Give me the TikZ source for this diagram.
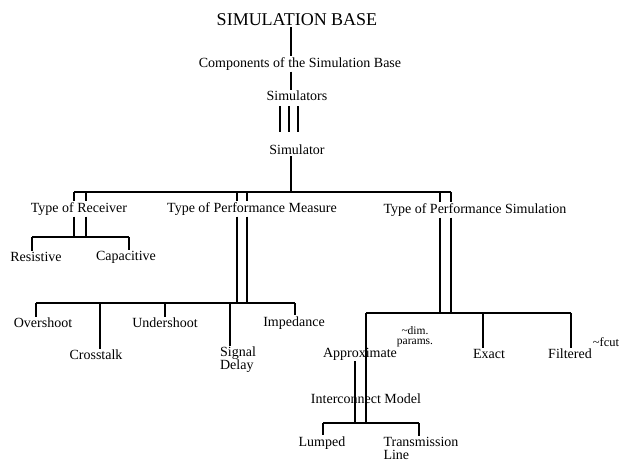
\documentclass[tikz,border=0pt]{standalone}
\usepackage{fontspec}
\setmainfont{Liberation Serif}
\usetikzlibrary{calc}
\begin{document}
\begin{tikzpicture}[x=1pt,y=-1pt,
  lbl/.style={inner sep=1pt, font=\fontsize{14}{13}\selectfont},
  small/.style={inner sep=1pt, font=\fontsize{11.5}{10}\selectfont, align=center},
  conn/.style={line width=1.6pt}]
\useasboundingbox (0,0) rectangle (621,462);
% nodes
\node[inner sep=1pt, font=\fontsize{18}{18}\selectfont] (title) at (297,20) {SIMULATION BASE};
\node[lbl] (comp) at (300,64) {Components of the Simulation Base};
\node[lbl] (sims) at (297,96) {Simulators};
\node[lbl] (sim) at (297,150) {Simulator};
\node[lbl] (recv) at (79,209) {Type of Receiver};
\node[lbl] (perfm) at (252,209) {Type of Performance Measure};
\node[lbl] (perfs) at (475,210) {Type of Performance Simulation};
\node[lbl] (res) at (36,257) {Resistive};
\node[lbl] (cap) at (126,257) {Capacitive};
\node[lbl] (over) at (43,323) {Overshoot};
\node[lbl] (cross) at (96,355) {Crosstalk};
\node[lbl] (under) at (165,323) {Undershoot};
\node[lbl, align=left] (delay) at (238,360) {Signal\\Delay};
\node[lbl] (imp) at (294,323) {Impedance};
\node[lbl] (approx) at (360,354) {Approximate};
\node[small] (dim) at (415,337) {\textasciitilde dim.\\params.};
\node[lbl] (exact) at (489,354) {Exact};
\node[lbl] (filt) at (570,354) {Filtered};
\node[small, font=\fontsize{12.5}{12}\selectfont] (fcut) at (606,342) {\textasciitilde fcut};
\node[lbl] (icm) at (366,399) {Interconnect Model};
\node[lbl] (lump) at (322,443) {Lumped};
\node[lbl, align=left] (tl) at (421,448) {Transmission\\Line};
% bus coordinates
\coordinate (bus) at (291,192);
\coordinate (rbus) at (80,237);
\coordinate (mbus) at (240,303);
\coordinate (sbus) at (366,313);
\coordinate (ibus) at (366,423);
\coordinate (rL) at (74,0); \coordinate (rR) at (86,0);
\coordinate (mL) at (237,0); \coordinate (mR) at (247,0);
\coordinate (sL) at (440,0); \coordinate (sR) at (451,0);
\coordinate (aL) at (355,0); \coordinate (aR) at (366,0);
\coordinate (xRes) at (32,0); \coordinate (xCap) at (129,0);
\coordinate (xOver) at (36,0); \coordinate (xCross) at (100,0);
\coordinate (xUnder) at (165,0); \coordinate (xDelay) at (230,0);
\coordinate (xImp) at (295,0);
\coordinate (xExact) at (483,0); \coordinate (xFilt) at (571,0);
\coordinate (xLump) at (323,0); \coordinate (xTl) at (419,0);
% top chain
\draw[conn] (title.south -| bus) -- (comp.north -| bus);
\draw[conn] (comp.south -| bus) -- (sims.north -| bus);
\foreach \dx in {-11,-2,7}
  \draw[conn] ($(sims.south -| bus)+(\dx,4)$) -- ($(sim.north -| bus)+(\dx,-12)$);
\draw[conn] (sim.south -| bus) -- (bus);
\draw[conn] (bus -| rL) -- (bus -| sR);
% receiver
\foreach \c in {rL,rR} {
  \draw[conn] (bus -| \c) -- (recv.north -| \c);
  \draw[conn] (recv.south -| \c) -- (rbus -| \c);
}
\draw[conn] (rbus -| xRes) -- (rbus -| xCap);
\draw[conn] (rbus -| xRes) -- (res.north -| xRes);
\draw[conn] (rbus -| xCap) -- (cap.north -| xCap);
% performance measure
\foreach \c in {mL,mR} {
  \draw[conn] (bus -| \c) -- (perfm.north -| \c);
  \draw[conn] (perfm.south -| \c) -- (mbus -| \c);
}
\draw[conn] (mbus -| xOver) -- (mbus -| xImp);
\draw[conn] (mbus -| xOver) -- (over.north -| xOver);
\draw[conn] (mbus -| xCross) -- (cross.north -| xCross);
\draw[conn] (mbus -| xUnder) -- (under.north -| xUnder);
\draw[conn] (mbus -| xDelay) -- (delay.north -| xDelay);
\draw[conn] (mbus -| xImp) -- (imp.north -| xImp);
% performance simulation
\foreach \c in {sL,sR} {
  \draw[conn] (bus -| \c) -- (perfs.north -| \c);
  \draw[conn] (perfs.south -| \c) -- (sbus -| \c);
}
\draw[conn] (sbus -| aR) -- (sbus -| xFilt);
\draw[conn] (sbus -| aR) -- (ibus -| aR);
\draw[conn] (approx.south -| aL) -- (ibus -| aL);
\draw[conn] (sbus -| xExact) -- (exact.north -| xExact);
\draw[conn] (sbus -| xFilt) -- (filt.north -| xFilt);
% interconnect
\draw[conn] (ibus -| xLump) -- (ibus -| xTl);
\draw[conn] (ibus -| xLump) -- (lump.north -| xLump);
\draw[conn] (ibus -| xTl) -- (tl.north -| xTl);
\end{tikzpicture}
\end{document}
